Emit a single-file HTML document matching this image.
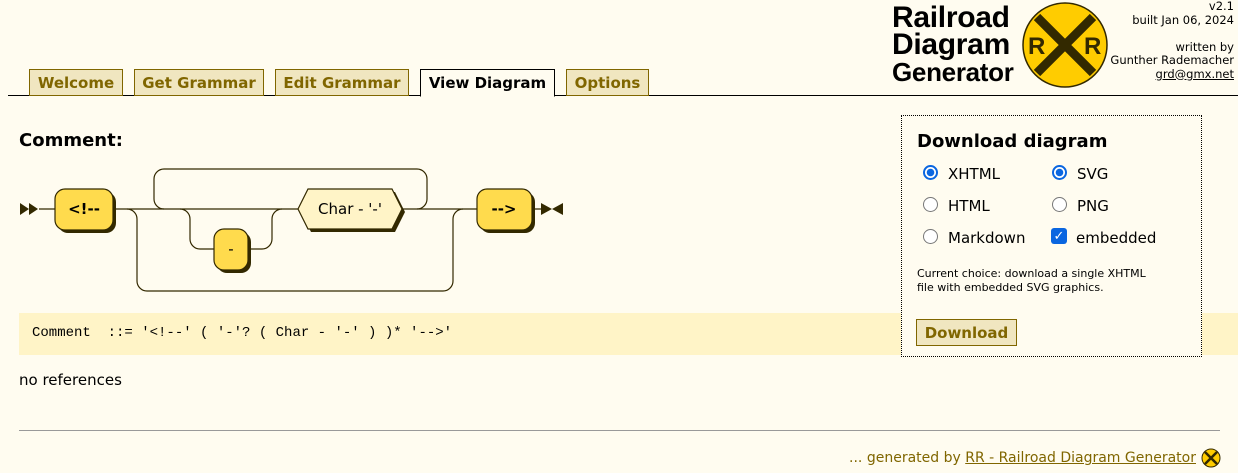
<!DOCTYPE html>
<html><head><meta charset="utf-8"><style>
body{margin:0;width:1238px;height:473px;background:#FFFCF0;font-family:"Liberation Sans","DejaVu Sans",sans-serif;position:relative;overflow:hidden;color:#000}
.a{position:absolute;white-space:nowrap}
.tab{position:absolute;top:69px;height:25px;border:1px solid #806600;background:#F0E6C0;color:#806600;font-weight:bold;font-size:15px;line-height:26px;text-align:center;font-family:"DejaVu Sans",sans-serif}
.r{position:absolute;width:15px;height:15px;border-radius:50%;border:1px solid #777;background:#fff;box-sizing:border-box}
.r.on{border:2px solid #0a66e0;background:radial-gradient(circle,#0a66e0 0 3.5px,#fff 4px)}
.lb{position:absolute;font-size:15px;font-family:"DejaVu Sans",sans-serif}
</style></head><body>
<div class="a" style="left:8px;top:95px;width:1230px;height:1px;background:#000"></div>
<div class="tab" style="left:29px;width:92px">Welcome</div>
<div class="tab" style="left:134px;width:128px">Get Grammar</div>
<div class="tab" style="left:275px;width:132px">Edit Grammar</div>
<div class="tab" style="left:420px;width:133px;background:#FFFCF0;color:#000;border-color:#000;border-bottom:1px solid #FFFCF0;height:26px">View Diagram</div>
<div class="tab" style="left:566px;width:81px">Options</div>

<div class="a" style="left:892px;top:4px;font-weight:bold;font-size:30px;line-height:27px;letter-spacing:-0.3px">Railroad<br>Diagram<br><span style="font-size:26px">Generator</span></div>
<svg class="a" style="left:1020px;top:0" width="92" height="92"><circle cx="45" cy="45" r="42" fill="#FFCC00" stroke="#332900" stroke-width="1.5"/><path d="M17 17L73 73M73 17L17 73" stroke="#332900" stroke-width="9"/><text x="8" y="54" font-size="24" font-weight="bold" fill="#332900" font-family="Liberation Sans">R</text><text x="64" y="54" font-size="24" font-weight="bold" fill="#332900" font-family="Liberation Sans">R</text></svg>
<div class="a" style="right:4px;top:0;text-align:right;font-size:11.5px;line-height:13.5px;font-family:'DejaVu Sans',sans-serif">v2.1<br>built Jan 06, 2024<br><br>written by<br>Gunther Rademacher<br><u>grd@gmx.net</u></div>

<div class="a" style="left:19px;top:130px;font-weight:bold;font-size:18px;font-family:'DejaVu Sans',sans-serif">Comment:</div>
<svg class="a" style="left:0;top:160px" width="600" height="140" viewBox="0 160 600 140">
<g fill="none" stroke="#332900" stroke-width="1.2">
<path d="M39 209H55M113 209H298M402 209H477M532 209H541"/>
<path d="M164 209a10 10 0 0 1 -10 -10V179a10 10 0 0 1 10 -10H417a10 10 0 0 1 10 10V199a10 10 0 0 1 -10 10"/>
<path d="M127 209a10 10 0 0 1 10 10V281a10 10 0 0 0 10 10H443a10 10 0 0 0 10 -10V219a10 10 0 0 1 10 -10"/>
<path d="M180 209a10 10 0 0 1 10 10V239a10 10 0 0 0 10 10H214M248 249H262a10 10 0 0 0 10 -10V219a10 10 0 0 1 10 -10"/>
</g>
<g fill="#332900"><path d="M20 203l9 6-9 6zM29 203l9 6-9 6zM541 203l11 6-11 6zM563 203l-11 6 11 6z"/>
<rect x="58" y="192" width="58" height="41" rx="10"/><rect x="217" y="232" width="34" height="41" rx="10"/><rect x="480" y="192" width="55" height="41" rx="10"/>
<path d="M311 192h84l10 20-10 20H311l-10-20z"/></g>
<g stroke="#332900" stroke-width="1.2"><rect x="55" y="189" width="58" height="41" rx="10" fill="#FFDB4D"/><rect x="214" y="229" width="34" height="41" rx="10" fill="#FFDB4D"/><rect x="477" y="189" width="55" height="41" rx="10" fill="#FFDB4D"/>
<path d="M308 189h84l10 20-10 20H308l-10-20z" fill="#FFF4C7"/></g>
<g font-family="DejaVu Sans" font-size="15" fill="#000" text-anchor="middle"><text x="84" y="214" font-weight="bold">&lt;!--</text><text x="231" y="254">-</text><text x="350" y="214">Char - '-'</text><text x="504" y="214" font-weight="bold">--&gt;</text></g>
</svg>

<div class="a" style="left:19px;top:313px;width:1219px;height:42px;background:#FFF4C7"></div>
<div class="a" style="left:32px;top:325px;font-family:'Liberation Mono',monospace;font-size:14px">Comment&nbsp; ::= '&lt;!--' ( '-'? ( Char - '-' ) )* '--&gt;'</div>
<div class="a" style="left:19px;top:371px;font-size:15px;font-family:'DejaVu Sans',sans-serif">no references</div>
<div class="a" style="left:19px;top:430px;width:1201px;height:1px;background:#999"></div>
<div class="a" style="right:42px;top:450px;font-size:14px;color:#806600;font-family:'DejaVu Sans',sans-serif">... generated by <u>RR - Railroad Diagram Generator</u></div>
<svg class="a" style="left:1201px;top:448px" width="20" height="20"><circle cx="10" cy="10" r="9" fill="#FFCC00" stroke="#332900"/><path d="M4 4L16 16M16 4L4 16" stroke="#332900" stroke-width="2.5"/></svg>

<div class="a" style="left:901px;top:115px;width:299px;height:240px;border:1px dotted #000;background:#FFFCF0"></div>
<div class="a" style="left:917px;top:131px;font-weight:bold;font-size:18px;font-family:'DejaVu Sans',sans-serif">Download diagram</div>
<div class="r on" style="left:923px;top:165px"></div><div class="lb" style="left:948px;top:165px">XHTML</div>
<div class="r on" style="left:1052px;top:165px"></div><div class="lb" style="left:1077px;top:165px">SVG</div>
<div class="r" style="left:923px;top:197px"></div><div class="lb" style="left:948px;top:197px">HTML</div>
<div class="r" style="left:1052px;top:197px"></div><div class="lb" style="left:1077px;top:197px">PNG</div>
<div class="r" style="left:923px;top:229px"></div><div class="lb" style="left:948px;top:229px">Markdown</div>
<div class="a" style="left:1051px;top:228px;width:16px;height:16px;border-radius:3px;background:#0a66e0;color:#fff;font-size:13px;line-height:16px;text-align:center;font-weight:bold">✓</div><div class="lb" style="left:1076px;top:229px">embedded</div>
<div class="a" style="left:917px;top:267px;font-size:11px;line-height:14px;font-family:'DejaVu Sans',sans-serif">Current choice: download a single XHTML<br>file with embedded SVG graphics.</div>
<div class="a" style="left:916px;top:319px;width:99px;height:25px;border:1px solid #806600;background:#F0E6C0;color:#806600;font-weight:bold;font-size:15px;line-height:26px;text-align:center;font-family:'DejaVu Sans',sans-serif">Download</div>
</body></html>
